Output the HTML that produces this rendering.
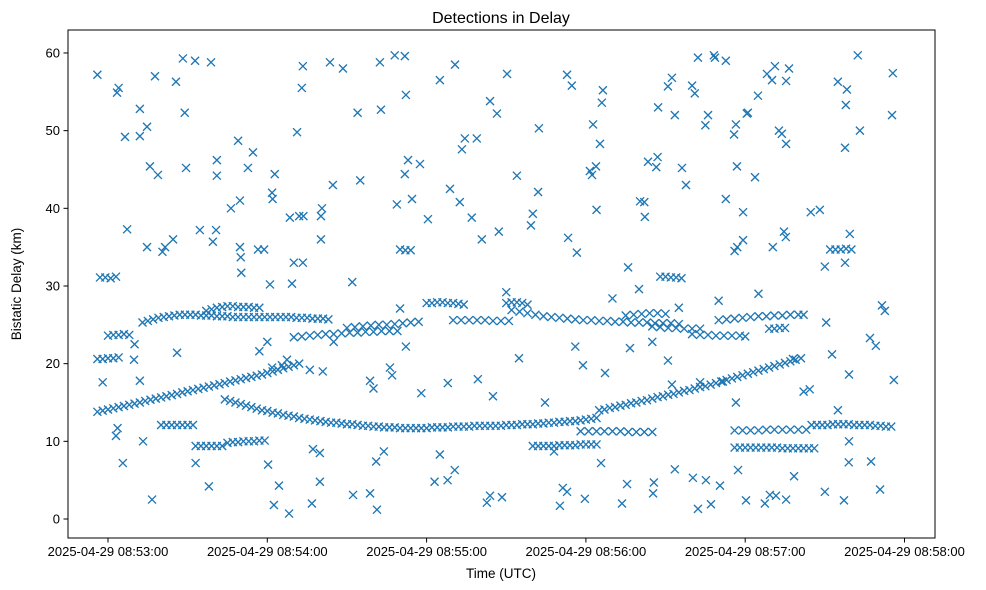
<!DOCTYPE html>
<html><head><meta charset="utf-8"><style>
body{margin:0;background:#fff;}
svg{display:block;font-family:"Liberation Sans",sans-serif;}
</style></head><body>
<svg id="chart" width="986" height="590" viewBox="0 0 986 590">
<rect width="986" height="590" fill="#fff"/>
<text x="501" y="23" font-size="16" text-anchor="middle">Detections in Delay</text>
<g id="marks"></g>
<rect x="68" y="30" width="867" height="508" fill="none" stroke="#000" stroke-width="1"/>
<g id="yticks"></g>
<g id="xticks"></g>
<text transform="translate(21,284) rotate(-90)" font-size="13.5" text-anchor="middle">Bistatic Delay (km)</text>
<text x="501" y="578" font-size="13.5" text-anchor="middle">Time (UTC)</text>
</svg>
<script>
// times in seconds after 08:53:00 UTC, delays in km
const yTickValues = [0,10,20,30,40,50,60];
const xTickSeconds = [0,60,120,180,240,300];
const xTickLabels = ["2025-04-29 08:53:00","2025-04-29 08:54:00","2025-04-29 08:55:00","2025-04-29 08:56:00","2025-04-29 08:57:00","2025-04-29 08:58:00"];

const risingTimes1 = [-4,-2,0,2,4,6,8,10,12,14,16,18,20,22,24,26,28,30,32,34,36,38,40,42,44,46,48,50,52,54,56,58,60,62,64,66,68,70,72];
const risingDelays1 = [13.8,13.95,14.1,14.25,14.4,14.55,14.7,14.85,15.0,15.2,15.35,15.5,15.65,15.8,15.95,16.1,16.3,16.45,16.6,16.75,16.9,17.05,17.2,17.35,17.5,17.7,17.85,18.0,18.15,18.3,18.45,18.6,18.8,19.0,19.2,19.4,19.6,19.8,20.0];
const fallingTimes = [44,46,48,50,52,54,56,58,60,62,64,66,68,70,72,74,76,78,80,82,84,86,88,90,92,94,96,98,100,102,104,106,108,110,112,114,116,118,120];
const fallingDelays = [15.4,15.2,15.0,14.8,14.6,14.4,14.2,14.0,13.9,13.7,13.6,13.4,13.3,13.2,13.0,12.9,12.8,12.7,12.6,12.5,12.4,12.4,12.3,12.2,12.2,12.1,12.0,12.0,11.9,11.9,11.8,11.8,11.8,11.7,11.7,11.7,11.7,11.7,11.7];
const flatTimes = [122,124,126,128,130,132,134,136,138,140,142,144,146,148,150,152,154,156,158,160,162,164,166,168,170,172,174,176,178,180,182,184];
const flatDelays = [11.8,11.8,11.8,11.8,11.9,11.9,11.9,11.9,12.0,12.0,12.0,12.0,12.0,12.0,12.1,12.1,12.1,12.2,12.2,12.2,12.3,12.3,12.4,12.4,12.5,12.5,12.6,12.6,12.7,12.8,12.9,13.0];
const risingTimes2 = [185,187,189,191,193,195,197,199,201,203,205,207,209,211,213,215,217,219,221,223,225,227,229,231,233,235,237,239,241,243,245,247,249,251,253,255,257,259,261];
const risingDelays2 = [14.0,14.1,14.3,14.4,14.6,14.7,14.9,15.0,15.2,15.3,15.5,15.7,15.8,16.0,16.1,16.3,16.5,16.6,16.8,17.0,17.1,17.3,17.5,17.7,17.9,18.1,18.3,18.5,18.7,18.9,19.1,19.3,19.5,19.7,19.9,20.1,20.3,20.5,20.7];
const lowTrackTimes = [33,35,37,39,41,43,45,47,49,51,53,55,57,59,160,162,164,166,168,170,172,174,176,178,180,182,184,236,238,240,242,244,246,248,250,252,254,256,258,260,262,264,266];
const lowTrackDelays = [9.4,9.4,9.4,9.4,9.4,9.4,9.8,9.9,9.9,10.0,10.0,10.0,10.1,10.1,9.4,9.4,9.4,9.4,9.4,9.5,9.5,9.5,9.5,9.6,9.6,9.6,9.6,9.2,9.2,9.2,9.2,9.2,9.2,9.2,9.2,9.2,9.1,9.1,9.1,9.1,9.1,9.1,9.1];
const midTrackTimes = [20,22,24,26,28,30,32,265,267,269,271,273,275,277,279,281,283,285,287,289,291,293,295,178,181,184,187,190,193,196,199,202,205,236,239,242,245,248,251,254,257,260,263];
const midTrackDelays = [12.1,12.1,12.1,12.1,12.1,12.1,12.1,12.1,12.1,12.1,12.1,12.2,12.2,12.2,12.2,12.1,12.1,12.1,12.1,12.0,12.0,11.9,11.9,11.3,11.3,11.3,11.3,11.3,11.3,11.2,11.2,11.2,11.2,11.4,11.4,11.4,11.4,11.5,11.5,11.5,11.5,11.5,11.5];
const upperTimes = [13,15,17,19,21,23,25,27,29,31,33,35,37,39,41,43,45,47,49,51,53,55,57,59,61,63,65,67,69,71,73,75,77,79,81,83,
  37,39,41,43,45,47,49,51,53,55,57,
  70,73,76,79,82,85,88,91,94,97,100,103,106,109,
  90,93,96,99,102,105,108,111,114,117,
  120,122,124,126,128,130,132,134,
  130,133,136,139,142,145,148,151,
  150,152,154,156,158,
  152,155,158,161,164,167,170,173,176,179,182,185,188,191,194,197,200,203,206,209,212,215,
  195,198,201,204,207,210,
  205,208,211,214,217,220,223,
  220,223,226,229,232,235,238,240,
  230,233,236,239,242,245,248,251,254,257,260,262];
const upperDelays = [25.3,25.5,25.7,25.9,26.0,26.1,26.2,26.3,26.3,26.3,26.3,26.2,26.2,26.2,26.1,26.1,26.1,26.0,26.0,26.0,26.0,26.0,26.0,26.0,26.0,26.0,26.0,26.0,26.0,25.9,25.9,25.9,25.8,25.8,25.8,25.7,
  26.8,27.0,27.2,27.3,27.4,27.4,27.3,27.3,27.3,27.2,27.2,
  23.4,23.5,23.6,23.7,23.8,23.8,23.9,24.0,24.0,24.1,24.1,24.2,24.2,24.2,
  24.6,24.7,24.8,24.9,25.0,25.0,25.1,25.2,25.3,25.4,
  27.8,27.8,27.9,27.9,27.8,27.8,27.7,27.6,
  25.6,25.6,25.6,25.6,25.6,25.5,25.5,25.5,
  27.8,27.9,27.9,27.8,27.6,
  26.9,26.7,26.5,26.3,26.1,26.0,25.9,25.8,25.7,25.6,25.6,25.5,25.5,25.4,25.4,25.3,25.3,25.3,25.2,25.2,25.2,25.1,
  26.2,26.3,26.4,26.5,26.5,26.4,
  24.8,24.7,24.6,24.6,24.5,24.5,24.5,
  23.8,23.7,23.7,23.6,23.6,23.6,23.6,23.5,
  25.6,25.7,25.8,25.9,26.0,26.1,26.1,26.2,26.2,26.3,26.3,26.3];
const clusterTimes = [-4,-2,0,2,4,-3,-1,1,3,0,2,4,6,208,210,212,214,216,272,274,276,278,280,110,112,114,249,251,253,255];
const clusterDelays = [20.6,20.6,20.7,20.7,20.8,31.1,31.1,31.0,31.2,23.6,23.7,23.7,23.8,31.2,31.2,31.1,31.1,31.0,34.7,34.7,34.7,34.8,34.7,34.7,34.6,34.6,24.5,24.5,24.6,24.6];
const noiseTimes = [-4,3.4,4,6.4,12,14.7,12,17.7,15.8,18.8,28.2,32.8,38.8,28.9,25.6,29.4,41,41,49,52.7,54.6,46.3,49.7,34.6,24.5,21.5,20.5,14.7,7.2,40.7,39.5,49.7,50,50.2,56.5,58.8,61.8,62.8,62,71.2,73,73.4,83.6,88.5,72,73.6,68.5,73.4,80.2,80.6,80.2,84.7,61,69.3,70,94,102.4,102.8,108,111.8,112.2,117.5,114.5,111.8,113,108.8,120.5,125,130.7,128.8,132.5,137,134.4,138.9,133.3,143.9,146.5,150.3,140.8,147.2,154,159.3,162,162.3,160,172.9,174.7,173.3,176.6,181.5,182.3,183.8,182.7,186,186.4,184,185.3,200.4,202,202.2,203.4,207,206.5,207.2,210.9,212.4,213.5,216.2,217.7,220,221,222.2,226,225,228.2,228.6,232.7,232.7,236.5,235.8,236.9,239.2,240.6,241,244.8,243.7,239.2,237,236,248.2,251.2,250.1,252.7,255.4,253.8,255.4,256.5,264.7,268.1,274.9,278.3,277.6,277.9,282.4,283.2,287,289.2,292.6,291.5,295.3,295.6,279.4,277.6,254.6,255.3,250.4,
  5.6,13.2,16.6,33,38,62.5,64.4,68.2,60.3,76.8,79.8,92.3,98.7,101.3,103.9,101,123,127.9,130.6,142.7,143.9,148.4,170.2,171.3,172.9,179.6,185.7,193.6,195.5,205.3,205.6,213.5,220.3,222.2,225.2,227.1,230.5,237.3,240.3,247.4,249.3,251.6,255.4,258.4,270,277.2,279,287.4,290.8,296,279.1,279.1,
  -2,9.8,12,3,3.6,61.8,65.5,67.4,76,80.9,79.8,77.2,95,98.7,100,106.2,107,112.2,128,139.3,154.8,164.6,178.9,187.2,195.9,196.6,205,210.9,212.4,223,231.6,236.5,258,264.3,270.5,272.7,274.9,8,10,26,60,92,110,125,150,168,190,215,245,270,57,85,118,145,176,200,230,262,284];
const noiseDelays = [57.2,54.9,55.5,49.2,52.8,50.5,49.3,57,45.4,44.3,59.3,59,58.8,52.3,56.3,45.2,46.2,44.2,48.7,45.2,47.2,40,41,37.2,36,35,34.4,35,37.3,37.2,35.7,35,33.7,31.7,34.7,34.7,42,44.4,41.2,49.8,55.5,58.3,58.8,58,39,39,38.8,33,39,40,36,43,30.2,30.3,33,52.3,58.8,52.7,59.7,59.6,54.6,45.7,41.2,44.4,46.2,40.5,38.6,56.5,58.5,42.5,40.8,38.8,49,49,47.6,53.8,52.2,57.3,36,37,44.2,37.8,42.1,50.3,39.3,57.2,55.8,36.2,34.3,44.8,44.3,45.4,50.8,53.6,55.2,39.8,48.3,40.9,40.8,38.9,46,46.6,45.3,53,55.7,56.8,52,45.2,43,55.8,54.8,59.4,52,50.7,59.7,59.4,59,41.2,50.8,49.5,45.4,39.5,52.2,52.3,54.5,44,35.9,35,34.5,57.3,58.3,56.5,50,48.3,49.6,56.4,58,39.5,39.8,56.3,55.3,47.8,53.3,59.7,50,23.3,22.3,26.8,27.5,52,57.4,36.7,33,37,36.3,35,
  7.2,10,2.5,7.2,4.2,1.8,4.3,0.7,7,2,4.8,3.1,3.3,1.2,8.7,7.4,4.8,5,6.3,2.1,3,2.8,1.7,4,3.5,2.6,7.2,2,4.5,3.3,4.7,6.4,5.3,1.3,5,1.9,4.3,6.3,2.4,2,3.1,3,2.5,5.5,3.5,2.4,7.3,7.4,3.8,17.9,18.6,10,
  17.6,20.5,17.8,10.7,11.7,19.5,19.8,20.5,19.2,19,8.5,9,43.6,17.8,16.8,19.5,18.5,22.2,17.5,18,20.7,15,19.8,18.8,32.4,22,22.8,20.4,17.3,17.6,17.7,15,20.6,16.7,25.3,21.2,14,23.7,22.5,21.4,22.8,30.5,27.1,8.3,29.2,8.7,28.4,27.2,29,32.5,21.6,22.8,16.2,15.8,22.2,29.6,28.1,16.4];

const NS = "http://www.w3.org/2000/svg";
function xScale(t){ return 108 + t * 159.3 / 60; }
function yScale(d){ return 519 - d * 7.767; }

const marks = document.getElementById('marks');
function drawSeries(times, delays, name){
  const g = document.createElementNS(NS, 'g');
  
  
  for (let i = 0; i < times.length && i < delays.length; i++){
    const cx = xScale(times[i]), cy = yScale(delays[i]), s = 4;
    const p = document.createElementNS(NS, 'path');
    
    
    p.setAttribute('d', `M${cx-s},${cy-s}L${cx+s},${cy+s}M${cx-s},${cy+s}L${cx+s},${cy-s}`);
    p.setAttribute('stroke', '#1f77b4');
    p.setAttribute('stroke-width', '1.35');
    p.setAttribute('fill', 'none');
    g.appendChild(p);
  }
  marks.appendChild(g);
}
drawSeries(risingTimes1, risingDelays1, 'rising-track-1');
drawSeries(fallingTimes, fallingDelays, 'falling-track');
drawSeries(flatTimes, flatDelays, 'flat-track');
drawSeries(risingTimes2, risingDelays2, 'rising-track-2');
drawSeries(lowTrackTimes, lowTrackDelays, 'low-tracks');
drawSeries(midTrackTimes, midTrackDelays, 'mid-tracks');
drawSeries(upperTimes, upperDelays, 'upper-tracks');
drawSeries(clusterTimes, clusterDelays, 'small-clusters');
drawSeries(noiseTimes, noiseDelays, 'scattered-detections');

const yt = document.getElementById('yticks');
yTickValues.forEach(v => {
  const y = yScale(v);
  const l = document.createElementNS(NS, 'line');
  
  
  l.setAttribute('x1', 68); l.setAttribute('x2', 63.5);
  l.setAttribute('y1', y); l.setAttribute('y2', y);
  l.setAttribute('stroke', '#000');
  yt.appendChild(l);
  const t = document.createElementNS(NS, 'text');
  
  
  t.setAttribute('x', 60); t.setAttribute('y', y + 4.5);
  t.setAttribute('font-size', '13');
  t.setAttribute('text-anchor', 'end');
  t.textContent = String(v);
  yt.appendChild(t);
});
const xt = document.getElementById('xticks');
xTickSeconds.forEach((s, i) => {
  const x = xScale(s);
  const l = document.createElementNS(NS, 'line');
  
  
  l.setAttribute('x1', x); l.setAttribute('x2', x);
  l.setAttribute('y1', 538); l.setAttribute('y2', 542.5);
  l.setAttribute('stroke', '#000');
  xt.appendChild(l);
  const t = document.createElementNS(NS, 'text');
  
  
  t.setAttribute('x', x); t.setAttribute('y', 556);
  t.setAttribute('font-size', '13');
  t.setAttribute('text-anchor', 'middle');
  t.textContent = xTickLabels[i];
  xt.appendChild(t);
});
</script>
</body></html>
